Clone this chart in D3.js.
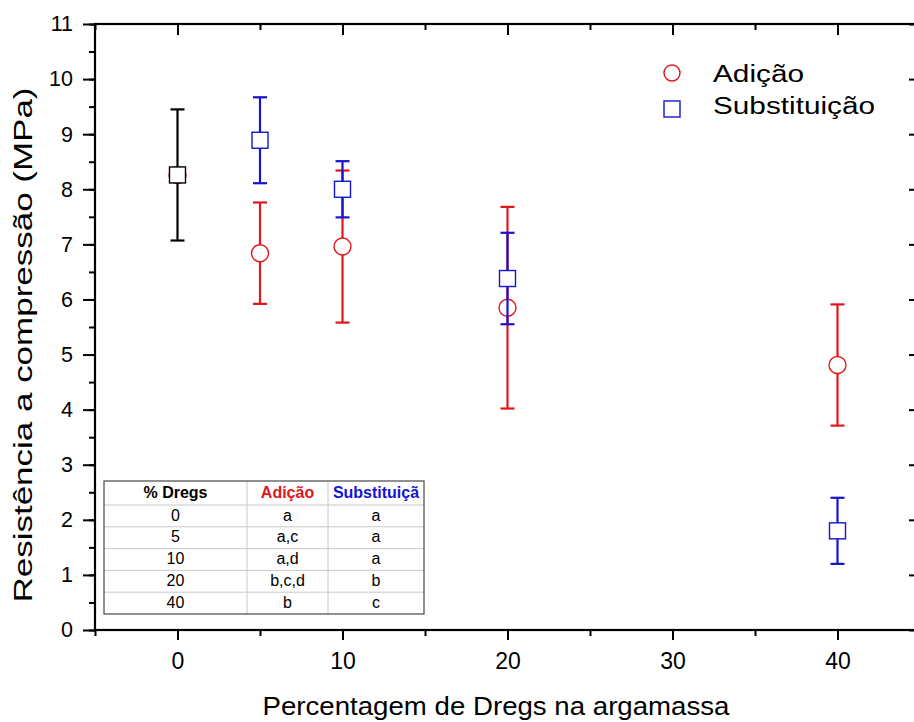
<!DOCTYPE html>
<meta charset="utf-8">
<style>
    body { margin: 0; background: #fff; }
    text { font-family: "Liberation Sans", Arial, sans-serif; }
</style>
<svg width="914" height="722"></svg>
<script src="https://cdn.jsdelivr.net/npm/d3@7"></script>
<script>

    // data
    var dregs = [0, 5, 10, 20, 40];
    var adicao = [8.26, 6.84, 6.96, 5.85, 4.81];
    var adicaoErr = [1.19, 0.92, 1.38, 1.83, 1.10];
    var subst = [8.26, 8.89, 8.00, 6.38, 1.80];
    var substErr = [1.19, 0.78, 0.51, 0.83, 0.60];
    var xTicks = [0, 10, 20, 30, 40];
    var yTicks = [0, 1, 2, 3, 4, 5, 6, 7, 8, 9, 10, 11];

    // table of significance letters
    var tableHead = ["% Dregs", "Adição", "Substituiçã"];
    var tableAd = ["a", "a,c", "a,d", "b,c,d", "b"];
    var tableSub = ["a", "a", "a", "b", "c"];

    var red = "#e0161b", blue = "#1414d2";

    var svg = d3.select("svg");
    var x = d3.scaleLinear().domain([-5, 45]).range([95, 920]),
        y = d3.scaleLinear().domain([0, 11]).range([630, 24]);

    var g = svg.append("g");

    // axes
    var minorX = d3.range(-5, 46, 5), minorY = d3.range(0, 11.01, 0.5);
    function styleAxis(fs) {
        return function(sel) {
            sel.attr("font-size", fs).attr("font-family", null);
            sel.select(".domain").remove();
            sel.selectAll("line").attr("stroke", "#000").attr("stroke-width", 2);
            sel.selectAll("text").attr("fill", "#000").attr("font-size", fs);
        };
    }
    g.append("g").attr("transform", "translate(0,630)")
        .call(d3.axisBottom(x).tickValues(minorX).tickSize(6).tickFormat(""))
        .call(styleAxis(23));
    g.append("g").attr("transform", "translate(0,630)")
        .call(d3.axisBottom(x).tickValues(xTicks).tickSize(10).tickPadding(13).tickFormat(d3.format("d")))
        .call(styleAxis(23));
    g.append("g").attr("transform", "translate(0,24)")
        .call(d3.axisBottom(x).tickValues(minorX).tickSize(6).tickFormat(""))
        .call(styleAxis(23));
    g.append("g").attr("transform", "translate(0,24)")
        .call(d3.axisBottom(x).tickValues(xTicks).tickSize(11).tickFormat(""))
        .call(styleAxis(23));
    g.append("g").attr("transform", "translate(95,0)")
        .call(d3.axisLeft(y).tickValues(minorY).tickSize(6).tickFormat(""))
        .call(styleAxis(21.5));
    g.append("g").attr("transform", "translate(95,0)")
        .call(d3.axisLeft(y).tickValues(yTicks).tickSize(12).tickPadding(10).tickFormat(d3.format("d")))
        .call(styleAxis(21.5));
    g.append("g").attr("transform", "translate(920,0)")
        .call(d3.axisRight(y).tickValues(minorY).tickSize(-6).tickFormat(""))
        .call(styleAxis(21.5));
    g.append("g").attr("transform", "translate(920,0)")
        .call(d3.axisRight(y).tickValues(yTicks).tickSize(-11).tickFormat(""))
        .call(styleAxis(21.5));

    // frame
    g.append("rect").attr("x", 95).attr("y", 24).attr("width", 825).attr("height", 606)
        .attr("fill", "none").attr("stroke", "#000").attr("stroke-width", 2.2);

    // axis titles
    svg.append("text").attr("x", 496).attr("y", 715).attr("text-anchor", "middle")
        .attr("font-size", 26).attr("textLength", 467).attr("lengthAdjust", "spacingAndGlyphs")
        .text("Percentagem de Dregs na argamassa");
    svg.append("text").attr("transform", "translate(32,345) rotate(-90)")
        .attr("text-anchor", "middle").attr("font-size", 26)
        .attr("textLength", 515).attr("lengthAdjust", "spacingAndGlyphs")
        .text("Resistência a compressão (MPa)");

    // table
    var tx = [104, 247, 328, 424], rowH = 21.8, headH = 24, ty = 481;
    var tbl = svg.append("g");
    var nRows = dregs.length;
    for (var i = 1; i <= nRows; i++) {
        var yy = ty + headH + (i - 1) * rowH;
        tbl.append("line").attr("x1", tx[0]).attr("x2", tx[3]).attr("y1", yy).attr("y2", yy)
            .attr("stroke", "#c8c8c8").attr("stroke-width", 1);
    }
    [1, 2].forEach(function(c) {
        tbl.append("line").attr("x1", tx[c]).attr("x2", tx[c]).attr("y1", ty).attr("y2", ty + headH + nRows * rowH)
            .attr("stroke", "#c8c8c8").attr("stroke-width", 1);
    });
    tbl.append("rect").attr("x", tx[0]).attr("y", ty).attr("width", tx[3] - tx[0])
        .attr("height", headH + nRows * rowH).attr("fill", "none").attr("stroke", "#555").attr("stroke-width", 1.3);
    var headCol = ["#000", red, blue];
    tableHead.forEach(function(h, c) {
        tbl.append("text").attr("x", (tx[c] + tx[c + 1]) / 2).attr("y", ty + 17)
            .attr("text-anchor", "middle").attr("font-size", 16).attr("font-weight", "bold")
            .attr("fill", headCol[c]).text(h);
    });
    dregs.forEach(function(d, r) {
        var yy = ty + headH + r * rowH + 15.5;
        [d, tableAd[r], tableSub[r]].forEach(function(v, c) {
            tbl.append("text").attr("x", (tx[c] + tx[c + 1]) / 2).attr("y", yy)
                .attr("text-anchor", "middle").attr("font-size", 16).attr("fill", "#000").text(v);
        });
    });

    // error bars + markers
    function errBars(idx, vals, errs, colorFn) {
        var eb = svg.append("g").selectAll("g").data(idx).enter().append("g")
            .attr("stroke", function(i) { return colorFn(i); }).attr("stroke-width", 2.2);
        eb.append("line").attr("x1", function(i) { return x(dregs[i]); }).attr("x2", function(i) { return x(dregs[i]); })
            .attr("y1", function(i) { return y(vals[i] + errs[i]); })
            .attr("y2", function(i) { return y(vals[i] - errs[i]); });
        eb.append("line").attr("x1", function(i) { return x(dregs[i]) - 7; }).attr("x2", function(i) { return x(dregs[i]) + 7; })
            .attr("y1", function(i) { return y(vals[i] + errs[i]); })
            .attr("y2", function(i) { return y(vals[i] + errs[i]); });
        eb.append("line").attr("x1", function(i) { return x(dregs[i]) - 7; }).attr("x2", function(i) { return x(dregs[i]) + 7; })
            .attr("y1", function(i) { return y(vals[i] - errs[i]); })
            .attr("y2", function(i) { return y(vals[i] - errs[i]); });
    }
    // the 0 % point is shared by both series and drawn in black
    errBars([1, 2, 3, 4], adicao, adicaoErr, function() { return red; });
    svg.append("g").selectAll("circle").data(dregs).enter().append("circle")
        .attr("cx", function(d) { return x(d); }).attr("cy", function(d, i) { return y(adicao[i]); })
        .attr("r", 8.5).attr("fill", "#fff").attr("stroke", red).attr("stroke-width", 1.4);
    errBars([0, 1, 2, 3, 4], subst, substErr, function(i) { return i === 0 ? "#000" : blue; });
    svg.append("g").selectAll("rect").data(dregs).enter().append("rect")
        .attr("x", function(d) { return x(d) - 8; }).attr("y", function(d, i) { return y(subst[i]) - 8; })
        .attr("width", 16).attr("height", 16).attr("fill", "#fff")
        .attr("stroke", function(d, i) { return i === 0 ? "#000" : blue; }).attr("stroke-width", 1.4);

    // legend
    var lg = svg.append("g");
    lg.append("circle").attr("cx", 672).attr("cy", 73).attr("r", 8)
        .attr("fill", "none").attr("stroke", red).attr("stroke-width", 1.4);
    lg.append("text").attr("x", 713).attr("y", 82).attr("font-size", 23)
        .attr("textLength", 91).attr("lengthAdjust", "spacingAndGlyphs").text("Adição");
    lg.append("rect").attr("x", 664).attr("y", 101).attr("width", 16).attr("height", 16)
        .attr("fill", "none").attr("stroke", blue).attr("stroke-width", 1.4);
    lg.append("text").attr("x", 713).attr("y", 114).attr("font-size", 23)
        .attr("textLength", 162).attr("lengthAdjust", "spacingAndGlyphs").text("Substituição");
</script>
